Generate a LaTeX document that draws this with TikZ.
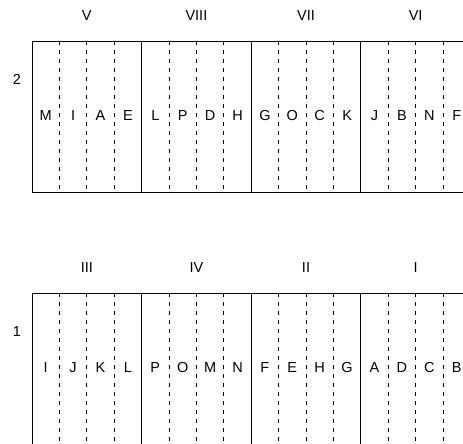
\documentclass[tikz,border=0pt]{standalone}
\usepackage{fontspec}
\setmainfont{Liberation Sans}
\begin{document}
\begin{tikzpicture}[x=1pt,y=-1pt,
  lab/.style={font=\fontsize{14.5}{17}\selectfont, inner sep=0pt},
  bigbox/.style={draw, line width=0.9pt},
  strip/.style={draw, dash pattern=on 4pt off 5pt, line width=0.7pt}]
\useasboundingbox (0,0) rectangle (463,444);
\clip (0,0) rectangle (463,444);
\def\sw{27.4}
\def\bw{109.6}
% top row
\foreach \k in {0,1,2,3} \draw[bigbox] ({32+\bw*\k},41) rectangle ++(\bw,151);
\foreach \j in {1,2,3,5,6,7,9,10,11,13,14,15} \draw[strip] ({32+\sw*\j},41) -- ({32+\sw*\j},192);
\foreach \L [count=\i from 0] in {M,I,A,E,L,P,D,H,G,O,C,K,J,B,N,F}
  \node[lab] (t\i) at ({32+\sw*(\i+0.5)},116) {\L};
\foreach \R [count=\k from 0] in {V,VIII,VII,VI}
  \node[lab] (tn\k) at ({32+\bw*(\k+0.5)},16) {\R};
\node[lab] (r2) at (17,79) {2};
% bottom row
\foreach \k in {0,1,2,3} \draw[bigbox] ({32+\bw*\k},293) rectangle ++(\bw,155);
\foreach \j in {1,2,3,5,6,7,9,10,11,13,14,15} \draw[strip] ({32+\sw*\j},293) -- ({32+\sw*\j},448);
\foreach \L [count=\i from 0] in {I,J,K,L,P,O,M,N,F,E,H,G,A,D,C,B}
  \node[lab] (b\i) at ({32+\sw*(\i+0.5)},368) {\L};
\foreach \R [count=\k from 0] in {III,IV,II,I}
  \node[lab] (bn\k) at ({32+\bw*(\k+0.5)},268) {\R};
\node[lab] (r1) at (17,332) {1};
\end{tikzpicture}
\end{document}
